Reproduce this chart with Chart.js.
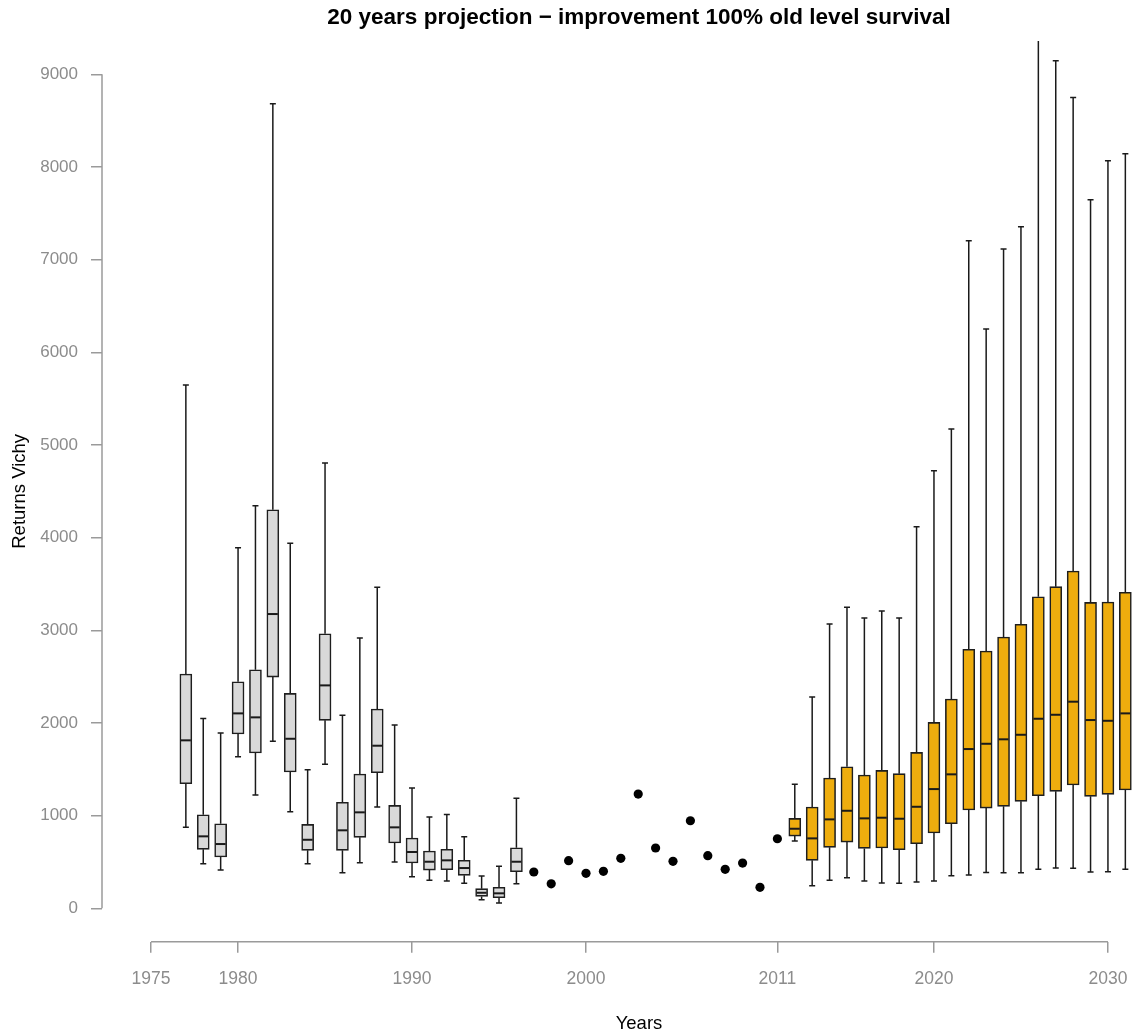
<!DOCTYPE html>
<html>
<head>
<meta charset="utf-8">
<title>Returns Vichy - 20 years projection</title>
<script src="https://cdn.jsdelivr.net/npm/chart.js@4/dist/chart.umd.min.js"></script>
<style>
  html, body { margin: 0; padding: 0; background: #fff; }
  #wrap { width: 1133px; height: 1035px; position: relative; }
</style>
</head>
<body>
<div id="wrap"><canvas id="boxChart"></canvas></div>
<script>
// Observed box statistics, 1977-1996
const histYears = [1977, 1978, 1979, 1980, 1981, 1982, 1983, 1984, 1985, 1986,
                   1987, 1988, 1989, 1990, 1991, 1992, 1993, 1994, 1995, 1996];
const histLow  = [874, 481, 413, 1636, 1223, 1802, 1043, 481, 1554, 384, 492, 1093, 500, 341, 302, 295, 270, 93, 57, 265];
const histQ1   = [1345, 637, 554, 1881, 1676, 2496, 1471, 626, 2029, 626, 766, 1463, 705, 489, 413, 417, 356, 129, 114, 395];
const histMed  = [1813, 777, 694, 2104, 2061, 3176, 1830, 740, 2406, 842, 1036, 1755, 874, 608, 503, 518, 435, 168, 162, 503];
const histQ3   = [2528, 1010, 913, 2445, 2575, 4301, 2320, 906, 2963, 1144, 1450, 2151, 1111, 759, 618, 637, 518, 212, 227, 654];
const histHigh = [5647, 2050, 1892, 3891, 4345, 8683, 3939, 1496, 4805, 2083, 2917, 3466, 1978, 1298, 985, 1014, 773, 349, 453, 1187];

// Single counts, 1997-2011
const obsYears  = [1997, 1998, 1999, 2000, 2001, 2002, 2003, 2004, 2005, 2006, 2007, 2008, 2009, 2010, 2011];
const obsValues = [392, 265, 514, 378, 399, 540, 1233, 651, 507, 945, 568, 421, 489, 227, 751];

// Projection, 2012-2031
const projYears = [2012, 2013, 2014, 2015, 2016, 2017, 2018, 2019, 2020, 2021,
                   2022, 2023, 2024, 2025, 2026, 2027, 2028, 2029, 2030, 2031];
const projLow  = [726, 244, 302, 330, 295, 273, 270, 284, 295, 352, 359, 388, 384, 384, 421, 435, 432, 392, 395, 421];
const projQ1   = [780, 518, 658, 715, 647, 651, 632, 697, 813, 913, 1061, 1082, 1101, 1155, 1215, 1263, 1331, 1209, 1230, 1277];
const projMed  = [859, 755, 960, 1053, 971, 978, 967, 1096, 1287, 1446, 1719, 1776, 1824, 1873, 2046, 2089, 2230, 2032, 2024, 2104];
const projQ3   = [971, 1093, 1406, 1528, 1438, 1489, 1453, 1683, 2007, 2259, 2795, 2777, 2928, 3065, 3363, 3471, 3640, 3302, 3305, 3410];
const projHigh = [1338, 2280, 3068, 3248, 3133, 3208, 3133, 4118, 4722, 5172, 7204, 6251, 7114, 7355, 9700, 9146, 8751, 7646, 8067, 8143];

// Axis ticks
const xTicks = [1975, 1980, 1990, 2000, 2011, 2020, 2030];
const yTicks = [0, 1000, 2000, 3000, 4000, 5000, 6000, 7000, 8000, 9000];

const FONT = "'Liberation Sans', Arial, Helvetica, sans-serif";
const AXIS_GREY = '#9a9a9a';
const LABEL_GREY = '#8c8c8c';

function boxDataset(years, q1, q3, low, med, high, fill) {
  return {
    type: 'bar',
    data: years.map((yr, i) => ({ x: yr, y: [q1[i], q3[i]] })),
    stats: { low: low, med: med, high: high },
    backgroundColor: fill,
    borderColor: '#1e1e1e',
    borderWidth: 1.6,
    borderSkipped: false,
    barThickness: 12,
    grouped: false,
    order: 2
  };
}

// whiskers + staples go under the boxes, medians on top
const boxWhiskers = {
  id: 'boxWhiskers',
  beforeDatasetsDraw(chart) {
    const { ctx, chartArea, scales: { y } } = chart;
    ctx.save();
    ctx.beginPath();
    ctx.rect(chartArea.left, chartArea.top, chartArea.right - chartArea.left, chartArea.bottom - chartArea.top);
    ctx.clip();
    ctx.strokeStyle = '#1a1a1a';
    ctx.lineWidth = 1.5;
    chart.data.datasets.forEach((ds, di) => {
      if (!ds.stats) return;
      chart.getDatasetMeta(di).data.forEach((bar, i) => {
        const x = bar.x;
        const half = bar.width / 4;
        const yLo = y.getPixelForValue(ds.stats.low[i]);
        const yHi = y.getPixelForValue(ds.stats.high[i]);
        const yQ1 = y.getPixelForValue(ds.data[i].y[0]);
        const yQ3 = y.getPixelForValue(ds.data[i].y[1]);
        ctx.beginPath();
        ctx.moveTo(x, yLo); ctx.lineTo(x, yQ1);
        ctx.moveTo(x, yQ3); ctx.lineTo(x, yHi);
        ctx.moveTo(x - half, yLo); ctx.lineTo(x + half, yLo);
        ctx.moveTo(x - half, yHi); ctx.lineTo(x + half, yHi);
        ctx.stroke();
      });
    });
    ctx.restore();
  },
  afterDatasetsDraw(chart) {
    const { ctx, scales: { y } } = chart;
    ctx.save();
    ctx.strokeStyle = '#1a1a1a';
    ctx.lineWidth = 2;
    chart.data.datasets.forEach((ds, di) => {
      if (!ds.stats) return;
      chart.getDatasetMeta(di).data.forEach((bar, i) => {
        const ym = y.getPixelForValue(ds.stats.med[i]);
        const w = bar.width / 2;
        ctx.beginPath();
        ctx.moveTo(bar.x - w + 1, ym);
        ctx.lineTo(bar.x + w - 1, ym);
        ctx.stroke();
      });
    });
    ctx.restore();
  }
};

// axis lines only span the labelled range; titles placed by hand
const axesAndTitles = {
  id: 'axesAndTitles',
  afterDraw(chart) {
    const { ctx, chartArea, scales: { x, y } } = chart;
    ctx.save();
    ctx.strokeStyle = AXIS_GREY;
    ctx.lineWidth = 1.5;
    ctx.beginPath();
    ctx.moveTo(chartArea.left, y.getPixelForValue(yTicks[0]));
    ctx.lineTo(chartArea.left, y.getPixelForValue(yTicks[yTicks.length - 1]));
    ctx.moveTo(x.getPixelForValue(xTicks[0]), chartArea.bottom);
    ctx.lineTo(x.getPixelForValue(xTicks[xTicks.length - 1]), chartArea.bottom);
    ctx.stroke();

    ctx.fillStyle = '#000';
    ctx.textAlign = 'center';
    ctx.textBaseline = 'middle';
    ctx.font = 'bold 22.5px ' + FONT;
    ctx.fillText('20 years projection \u2212 improvement 100% old level survival', 639, 18);
    ctx.font = '18.5px ' + FONT;
    ctx.fillText('Years', 639, 1024);
    ctx.restore();
  }
};

const ctx = document.getElementById('boxChart').getContext('2d');
const boxChart = new Chart(ctx, {
  type: 'bar',
  data: {
    datasets: [
      boxDataset(histYears, histQ1, histQ3, histLow, histMed, histHigh, '#D9D9D9'),
      boxDataset(projYears, projQ1, projQ3, projLow, projMed, projHigh, '#EEAD0E'),
      {
        type: 'scatter',
        data: obsYears.map((yr, i) => ({ x: yr, y: obsValues[i] })),
        pointRadius: 4.6,
        pointBackgroundColor: '#000',
        pointBorderColor: '#000',
        pointBorderWidth: 0,
        order: 1
      }
    ]
  },
  options: {
    responsive: true,
    maintainAspectRatio: false,
    animation: false,
    layout: { autoPadding: false, padding: { top: 41, right: 0, bottom: 0, left: 0 } },
    plugins: {
      legend: { display: false },
      tooltip: { enabled: false },
      title: { display: false }
    },
    scales: {
      x: {
        type: 'linear',
        min: 1972.18,
        max: 2031.44,
        offset: false,
        grid: { display: true, offset: false, drawOnChartArea: false, drawTicks: true, tickLength: 11, color: AXIS_GREY, lineWidth: 1.5 },
        border: { display: false },
        ticks: {
          color: LABEL_GREY,
          font: { family: FONT, size: 17.5 },
          padding: 16,
          autoSkip: false,
          maxRotation: 0,
          callback: v => String(v)
        },
        afterBuildTicks: s => { s.ticks = xTicks.map(v => ({ value: v })); },
        afterFit: s => { s.height = 93.3; s.paddingLeft = 0; s.paddingRight = 0; }
      },
      y: {
        min: -360,
        max: 9360,
        grid: { display: true, drawOnChartArea: false, drawTicks: true, tickLength: 11, color: AXIS_GREY, lineWidth: 1.5 },
        border: { display: false },
        ticks: {
          color: LABEL_GREY,
          font: { family: FONT, size: 17 },
          padding: 13,
          callback: v => String(v)
        },
        title: {
          display: true,
          text: 'Returns Vichy',
          color: '#000',
          font: { family: FONT, size: 18.5 },
          padding: { top: 9, bottom: 0 }
        },
        afterBuildTicks: s => { s.ticks = yTicks.map(v => ({ value: v })); },
        afterFit: s => { s.width = 102; s.paddingTop = 0; s.paddingBottom = 0; }
      }
    }
  },
  plugins: [boxWhiskers, axesAndTitles]
});
</script>
</body>
</html>
